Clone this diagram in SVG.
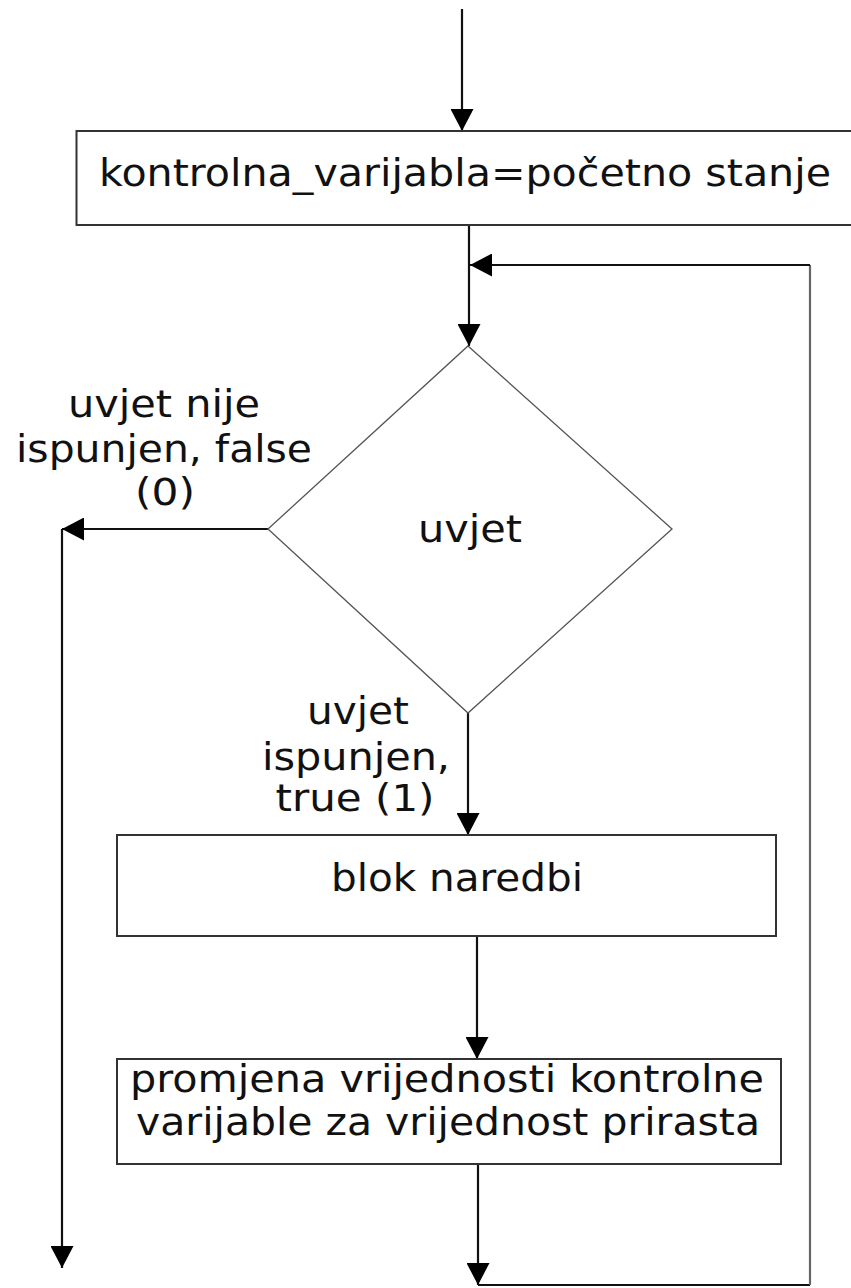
<svg xmlns="http://www.w3.org/2000/svg" width="851" height="1288" viewBox="0 0 851 1288">
<style>
.box{fill:#fff;stroke:#333;stroke-width:2}
.dia{fill:#fff;stroke:#555;stroke-width:1.3}
.c{fill:none;stroke:#111;stroke-width:2.2}
.g{fill:none;stroke:#666;stroke-width:2.2}
text{font-family:"DejaVu Sans","Verdana",sans-serif;font-size:37px;fill:#111;text-anchor:middle}
</style>
<defs>
<marker id="ah" markerUnits="userSpaceOnUse" markerWidth="22" markerHeight="23" refX="22" refY="11.5" orient="auto" viewBox="0 0 22 23">
<path d="M0,0 L22,11.5 L0,23 z" fill="#000"/>
</marker>
</defs>
<rect width="851" height="1288" fill="#fff"/>
<g id="connectors">
<path class="c" d="M462,9 V131" marker-end="url(#ah)"/>
<path class="c" d="M469,225 V346" marker-end="url(#ah)"/>
<path class="c" d="M268,529 H62" marker-end="url(#ah)"/>
<path class="c" d="M62,529 V1268" marker-end="url(#ah)"/>
<path class="c" d="M468,713 V835" marker-end="url(#ah)"/>
<path class="c" d="M477,936 V1059" marker-end="url(#ah)"/>
<path class="c" d="M478,1164 V1285" marker-end="url(#ah)"/>
<path class="c" d="M478,1285 H810"/>
<path class="g" d="M810,1285 V265"/>
<path class="c" d="M810,265 H470" marker-end="url(#ah)"/>
</g>
<g id="init">
<rect class="box" x="76.5" y="131" width="790" height="94"/>
<text x="465" y="186" textLength="732" lengthAdjust="spacingAndGlyphs">kontrolna_varijabla=početno stanje</text>
</g>
<g id="cond">
<polygon class="dia" points="468,346 672,529 468,713 268,529"/>
<text x="470" y="542" textLength="104" lengthAdjust="spacingAndGlyphs">uvjet</text>
</g>
<g id="label-false">
<text x="164" y="417" textLength="192" lengthAdjust="spacingAndGlyphs">uvjet nije</text>
<text x="164" y="462" textLength="296" lengthAdjust="spacingAndGlyphs">ispunjen, false</text>
<text x="165" y="505" textLength="60" lengthAdjust="spacingAndGlyphs">(0)</text>
</g>
<g id="label-true">
<text x="358" y="724" textLength="102" lengthAdjust="spacingAndGlyphs">uvjet</text>
<text x="356" y="770" textLength="188" lengthAdjust="spacingAndGlyphs">ispunjen,</text>
<text x="355" y="811" textLength="159" lengthAdjust="spacingAndGlyphs">true (1)</text>
</g>
<g id="block">
<rect class="box" x="117" y="835" width="659" height="101"/>
<text x="457" y="891" textLength="252" lengthAdjust="spacingAndGlyphs">blok naredbi</text>
</g>
<g id="update">
<rect class="box" x="117" y="1059" width="664" height="105"/>
<text x="447" y="1092" textLength="634" lengthAdjust="spacingAndGlyphs">promjena vrijednosti kontrolne</text>
<text x="448" y="1135" textLength="624" lengthAdjust="spacingAndGlyphs">varijable za vrijednost prirasta</text>
</g>
</svg>
